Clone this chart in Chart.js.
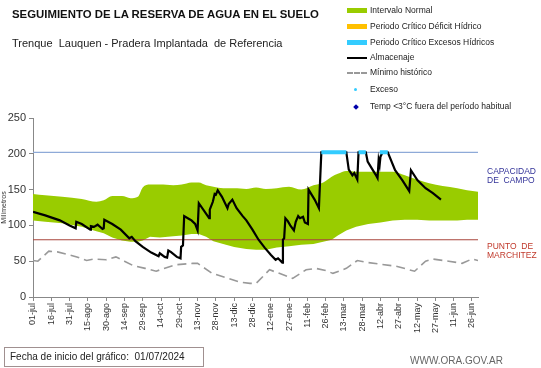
<!DOCTYPE html>
<html>
<head>
<meta charset="utf-8">
<script src="https://cdn.jsdelivr.net/npm/chart.js@4.4.1/dist/chart.umd.min.js"></script>
<style>
  body { margin: 0; background: #fff; }
  #wrap { position: relative; width: 541px; height: 368px; font-family: "Liberation Sans", Arial, sans-serif; color: #111; }
  #wrap canvas { position: absolute; left: 0; top: 0; }
  .txt { position: absolute; white-space: pre; line-height: 1; }
  .leg { position: absolute; left: 347px; font-size: 8.5px; color: #222; white-space: pre; line-height: 1; }
  .sw { display: inline-block; width: 20px; vertical-align: middle; margin-right: 3px; }
</style>
</head>
<body>
<div id="wrap">
  <canvas id="grafico" width="541" height="368"></canvas>
  <div class="txt" style="left:12px;top:9px;font-size:11.4px;font-weight:bold;">SEGUIMIENTO DE LA RESERVA DE AGUA EN EL SUELO</div>
  <div class="txt" style="left:12px;top:38px;font-size:11px;color:#222;">Trenque  Lauquen - Pradera Implantada  de Referencia</div>

  <div class="leg" style="top:6px;"><span class="sw" style="height:5px;background:#99cc00;"></span>Intervalo Normal</div>
  <div class="leg" style="top:22px;"><span class="sw" style="height:5px;background:#ffc000;"></span>Periodo Crítico Déficit Hídrico</div>
  <div class="leg" style="top:38px;"><span class="sw" style="height:5px;background:#33ccff;"></span>Periodo Crítico Excesos Hídricos</div>
  <div class="leg" style="top:53px;"><span class="sw" style="height:2px;background:#000;"></span>Almacenaje</div>
  <div class="leg" style="top:68px;"><span class="sw" style="height:0;border-top:2px dashed #999;"></span>Mínimo histórico</div>
  <div class="leg" style="top:85px;"><span class="sw" style="height:8px;position:relative;"><span style="position:absolute;left:7px;top:2px;width:3px;height:3px;border-radius:50%;background:#33ccff;"></span></span>Exceso</div>
  <div class="leg" style="top:102px;"><span class="sw" style="height:8px;position:relative;"><span style="position:absolute;left:7px;top:2px;width:4px;height:4px;transform:rotate(45deg);background:#0000aa;"></span></span>Temp &lt;3°C fuera del período habitual</div>

  <div class="txt" style="left:487px;top:167px;font-size:8.5px;color:#333399;line-height:9px;">CAPACIDAD
DE  CAMPO</div>
  <div class="txt" style="left:487px;top:242px;font-size:8.5px;color:#c0392b;line-height:9px;">PUNTO  DE
MARCHITEZ</div>

  <div class="txt" style="left:4px;top:347px;width:189px;height:13px;padding:4px 4px 1px 5px;border:1px solid #a09090;font-size:10px;color:#222;">Fecha de inicio del gráfico:  01/07/2024</div>
  <div class="txt" style="left:410px;top:356px;font-size:10px;color:#666;">WWW.ORA.GOV.AR</div>
</div>

<script>
// dias desde el 01/07/2024
const etiquetasX = ["01-jul", "16-jul", "31-jul", "15-ago", "30-ago", "14-sep", "29-sep", "14-oct",
  "29-oct", "13-nov", "28-nov", "13-dic", "28-dic", "12-ene", "27-ene", "11-feb", "26-feb", "13-mar",
  "28-mar", "12-abr", "27-abr", "12-may", "27-may", "11-jun", "26-jun"];
const diasEtiquetas = etiquetasX.map((e, i) => i * 15);

// intervalo normal (banda verde)
const diasBanda = [0, 10, 24, 40, 52, 58, 65, 73, 80, 86, 90, 96, 104, 115, 122, 130, 136, 142, 148, 156,
  165, 175, 183, 191, 200, 210, 220, 230, 238, 245, 250, 257, 265, 275, 285, 295, 305, 315, 325, 336, 348, 356, 365];
const bandaSuperior = [144, 142, 140, 137, 133, 135, 141, 141, 138, 140, 153, 157, 157, 156, 157, 160, 160, 156, 154, 152,
  152, 151, 153, 151, 152, 154, 150, 156, 160, 168, 172, 176, 175, 175, 175, 175, 170, 164, 159, 155, 152, 149, 147];
const bandaInferior = [107, 105, 103, 98, 92, 89, 83, 79, 77, 77, 79, 84, 83, 85, 86, 88, 88, 84, 78, 74,
  70, 67, 66, 66, 69, 71, 73, 74, 77, 80, 86, 93, 98, 102, 104, 107, 108, 108, 107, 107, 107, 108, 108];

// minimo historico
const diasMinimo = [0, 4, 13, 20, 27, 36, 44, 50, 60, 68, 75, 82, 92, 101, 106, 117, 131, 135, 147, 160, 169, 178,
  183, 194, 202, 213, 224, 232, 240, 246, 257, 266, 275, 284, 298, 313, 322, 328, 341, 352, 360, 365];
const minimoHistorico = [51, 50, 64, 63, 60, 56, 51, 53, 52, 56, 50, 44, 40, 36, 39, 45, 47, 47, 33, 26, 21, 19,
  19, 38, 33, 26, 38, 40, 37, 33, 40, 51, 48, 46, 43, 36, 50, 53, 50, 47, 53, 51];

// almacenaje
const diasAlmacenaje = [0, 10, 22, 30, 35, 35.5, 40, 47, 47.5, 50, 53, 57, 58, 58.5, 65, 72, 79, 81, 84, 90, 97,
  103, 104, 108, 110, 111, 113, 118, 121, 121.5, 123, 124, 128, 130, 133, 135, 136, 144.5, 145, 147.5, 149, 150,
  151.5, 153, 155, 159.5, 160.5, 163.5, 167, 172, 175, 180, 185, 190, 195, 199, 201, 204.5, 205, 206, 207, 209,
  211, 214, 215.5, 217.5, 219, 221.5, 223, 225.5, 226, 231, 234.5, 236.5, 257, 259, 262, 263.5, 266, 267, 273,
  274.5, 277, 281, 282.6, 283.5, 284.3, 285, 286.7, 291, 297, 303, 308.6, 310, 315.4, 322, 328, 334.6];
const almacenaje = [119, 114, 107, 100, 96, 105, 102, 94, 99, 98, 101, 95, 96, 108, 102, 94, 82, 84, 78, 70, 62,
  57, 61, 56, 55, 65, 63, 56, 54, 70, 72, 113, 109, 107, 102, 93, 131, 110, 122, 133, 144, 143,
  149, 145, 140, 124, 130, 136, 124, 113, 107, 94, 80, 69, 59, 52, 54, 48, 80, 82, 110, 106,
  100, 93, 105, 113, 110, 112, 104, 102, 150, 136, 124, 202, 202, 178, 170, 173, 164, 202, 202,
  189, 182, 171, 166, 191, 184, 196, 202, 202, 177, 163, 148, 177, 163, 152, 145, 136];

// periodos de exceso (sobre capacidad de campo)
const excesoInicio = [236.5, 267, 284.5];
const excesoFin = [257, 273, 291];

const capacidadCampo = 202;
const puntoMarchitez = 80;

const xy = (xs, ys) => xs.map((x, i) => ({ x: x, y: ys[i] }));

const datosExceso = [];
excesoInicio.forEach((ini, i) => {
  datosExceso.push({ x: ini, y: capacidadCampo }, { x: excesoFin[i], y: capacidadCampo }, { x: excesoFin[i] + 0.1, y: null });
});

new Chart(document.getElementById("grafico"), {
  type: "line",
  data: {
    datasets: [
      {
        label: "inferior",
        data: xy(diasBanda, bandaInferior),
        borderWidth: 0,
        pointRadius: 0,
        fill: false,
        order: 8,
      },
      {
        label: "Intervalo Normal",
        data: xy(diasBanda, bandaSuperior),
        borderWidth: 0,
        pointRadius: 0,
        backgroundColor: "#99cc00",
        fill: "-1",
        cubicInterpolationMode: "monotone",
        order: 7,
      },
      {
        label: "Mínimo histórico",
        data: xy(diasMinimo, minimoHistorico),
        borderColor: "#999999",
        borderWidth: 1.6,
        borderDash: [9, 5],
        pointRadius: 0,
        order: 6,
      },
      {
        label: "Capacidad de campo",
        data: [{ x: 0, y: capacidadCampo }, { x: 365, y: capacidadCampo }],
        borderColor: "#8eaad8",
        borderWidth: 1.3,
        pointRadius: 0,
        order: 5,
      },
      {
        label: "Punto de marchitez",
        data: [{ x: 0, y: puntoMarchitez }, { x: 365, y: puntoMarchitez }],
        borderColor: "#a8463c",
        borderWidth: 1.1,
        pointRadius: 0,
        order: 4,
      },
      {
        label: "Almacenaje",
        data: xy(diasAlmacenaje, almacenaje),
        borderColor: "#000000",
        borderWidth: 2.2,
        pointRadius: 0,
        order: 2,
      },
      {
        label: "Exceso",
        data: datosExceso,
        borderColor: "#33ccff",
        borderWidth: 4,
        pointRadius: 0,
        spanGaps: false,
        order: 1,
      },
    ],
  },
  options: {
    responsive: false,
    animation: false,
    events: [],
    layout: { padding: { left: 0, top: 118, right: 63, bottom: 26 } },
    plugins: {
      legend: { display: false },
      tooltip: { enabled: false },
      filler: { drawTime: "beforeDatasetsDraw" },
    },
    scales: {
      x: {
        type: "linear",
        min: 0,
        max: 365,
        afterBuildTicks: (s) => { s.ticks = diasEtiquetas.map((v) => ({ value: v })); },
        afterFit: (s) => { s.height = 45; },
        ticks: {
          autoSkip: false,
          minRotation: 90,
          maxRotation: 90,
          padding: 2,
          color: "#333",
          font: { family: "Liberation Sans", size: 9 },
          callback: (v, i) => etiquetasX[i],
        },
        grid: { drawOnChartArea: false, tickLength: 4, color: "#888" },
        border: { color: "#888" },
      },
      y: {
        min: 0,
        max: 250,
        afterFit: (s) => { s.width = 33; },
        ticks: {
          stepSize: 50,
          padding: 3,
          color: "#333",
          font: { family: "Liberation Sans", size: 11 },
        },
        title: {
          display: true,
          text: "Milímetros",
          padding: 0,
          color: "#333",
          font: { family: "Liberation Sans", size: 7 },
        },
        grid: { drawOnChartArea: false, tickLength: 4, color: "#888" },
        border: { color: "#888" },
      },
    },
  },
});
</script>
</body>
</html>
